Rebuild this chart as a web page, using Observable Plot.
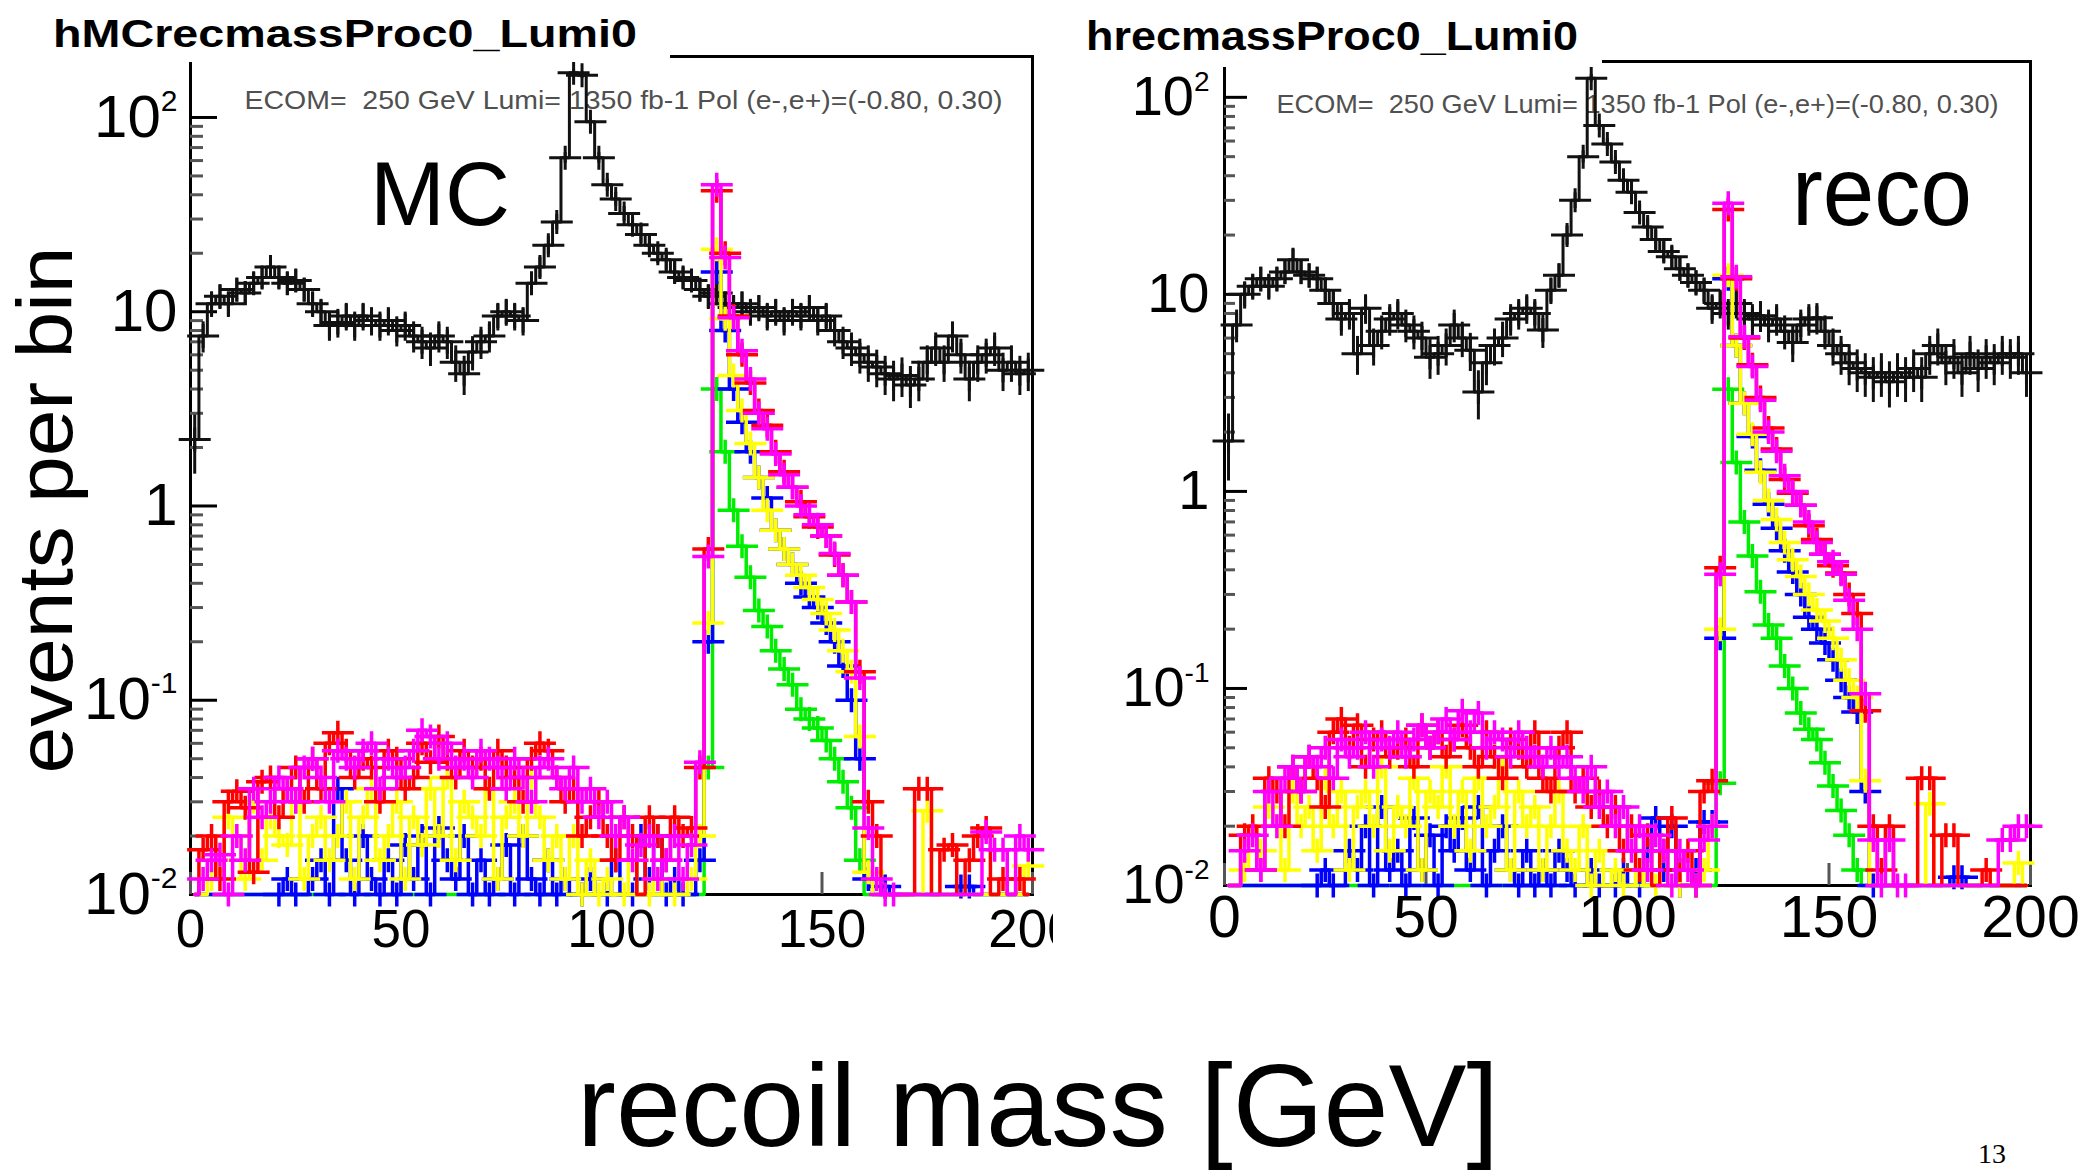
<!DOCTYPE html>
<html><head><meta charset="utf-8">
<script src="https://cdn.jsdelivr.net/npm/d3@7"></script>
<script src="https://cdn.jsdelivr.net/npm/@observablehq/plot@0.6"></script>
<style>
html,body{margin:0;padding:0;background:#fff;}
#page{position:relative;width:2089px;height:1170px;overflow:hidden;background:#fff;font-family:"Liberation Sans",Arial,sans-serif;}
#left,#right{position:absolute;top:0;}
#left{left:0;}
#right{left:1053px;}
#overlay{position:absolute;left:0;top:0;pointer-events:none;}
svg text{white-space:pre;}
</style></head>
<body><div id="page"><div id="left"></div><div id="right"></div><svg id="overlay" width="2089" height="1170"></svg></div>
<script>
// ---------------- data ----------------
const N_BINS = 100, BIN_WIDTH = 2;              // 0..200 GeV, 2 GeV bins
const binCenters = Array.from({length: N_BINS}, (_, i) => BIN_WIDTH * i + BIN_WIDTH / 2);
const X_TICKS = [0, 50, 100, 150, 200];
const Y_TICK_VALUES = [0.01, 0.1, 1, 10, 100];
const Y_TICK_LABELS = ["10^-2", "10^-1", "1", "10", "10^2"];
const ECOM_TEXT = "ECOM=  250 GeV Lumi= 1350 fb-1 Pol (e-,e+)=(-0.80, 0.30)";
const TITLE_MC = "hMCrecmassProc0_Lumi0";
const TITLE_RECO = "hrecmassProc0_Lumi0";

// ---- MC (left) ----
const mcBlack = [
  2.2, 7.5, 11, 12, 11, 13, 12.5, 14, 15, 17,
  15, 14, 14.5, 13, 11, 10, 8.5, 8.8, 9.5, 8.5,
  9.5, 9, 8.5, 9, 8, 8.5, 7.5, 7, 6.5, 7.5,
  7, 5.5, 4.8, 6.2, 7, 7.5, 9.5, 10, 9.5, 9,
  14, 17, 22, 29, 62, 170, 165, 95, 62, 45,
  38, 32, 28, 25, 22, 20, 18.5, 16, 15, 14.5,
  13, 12, 12.5, 11, 10.5, 11, 10, 10.5, 9.5, 10,
  9, 10, 9.5, 10.5, 9, 9.5, 8, 7, 6.5, 6,
  5.5, 5.2, 4.8, 4.5, 4.7, 4.2, 4.5, 5.5, 6.5, 5.5,
  7.5, 6, 4.5, 5.5, 6, 6.5, 5, 5.5, 4.8, 5];
const mcRed = [
  0, 0.017, 0.02, 0.012, 0.03, 0.034, 0.028, 0.013, 0.038, 0.04,
  0.025, 0.035, 0.045, 0.03, 0.05, 0.035, 0.06, 0.068, 0.055, 0.04,
  0.05, 0.045, 0.03, 0.055, 0.05, 0.035, 0.04, 0.06, 0.048, 0.065,
  0.05, 0.04, 0.055, 0.045, 0.05, 0.035, 0.055, 0.045, 0.04, 0.03,
  0.05, 0.06, 0.055, 0.04, 0.03, 0.035, 0.02, 0.025, 0.03, 0.02,
  0.015, 0.025, 0.02, 0, 0.025, 0.02, 0.015, 0.025, 0.02, 0.022,
  0.045, 0.6, 42, 20, 9.5, 6, 4.3, 3.1, 2.6, 1.9,
  1.5, 1.25, 1.05, 0.88, 0.78, 0.7, 0.56, 0.44, 0.32, 0.14,
  0.03, 0.02, 0, 0, 0, 0, 0.035, 0.035, 0, 0.017,
  0.018, 0, 0.015, 0.02, 0.022, 0, 0.012, 0, 0.012, 0];
const mcYellow = [
  0, 0, 0.012, 0.015, 0.025, 0.02, 0.012, 0.03, 0.015, 0.025,
  0.02, 0.018, 0.03, 0.012, 0.02, 0.025, 0.015, 0.02, 0.03, 0.012,
  0.025, 0.035, 0.015, 0.02, 0.03, 0.012, 0.025, 0.018, 0.035, 0.02,
  0.04, 0.015, 0.03, 0.025, 0.02, 0.035, 0.012, 0.025, 0.03, 0.02,
  0.04, 0.025, 0.015, 0.02, 0.012, 0.02, 0.01, 0.015, 0.01, 0.012,
  0, 0.01, 0.015, 0, 0.01, 0.012, 0, 0.01, 0, 0.012,
  0.02, 0.25, 21, 9.2, 4.7, 3.1, 2.1, 1.4, 0.95, 0.75,
  0.6, 0.5, 0.44, 0.38, 0.33, 0.28, 0.23, 0.18, 0.14, 0.065,
  0.013, 0, 0, 0, 0, 0, 0, 0.027, 0, 0,
  0, 0, 0, 0, 0, 0, 0, 0, 0, 0.014];
const mcBlue = [
  0, 0, 0, 0, 0, 0, 0, 0, 0, 0,
  0.01, 0.012, 0.01, 0, 0.012, 0.015, 0.01, 0.035, 0.015, 0.01,
  0.02, 0.012, 0.01, 0.015, 0.01, 0.018, 0.012, 0.02, 0.01, 0.022,
  0.015, 0.012, 0.02, 0.01, 0.015, 0.01, 0.012, 0.018, 0.01, 0.02,
  0.012, 0.01, 0.015, 0.01, 0.012, 0, 0.01, 0.012, 0, 0.01,
  0.015, 0, 0.01, 0.02, 0.012, 0.02, 0.01, 0.012, 0.01, 0,
  0.015, 0.2, 16, 8, 4, 2.7, 1.9, 1.4, 1.1, 0.75,
  0.6, 0.5, 0.4, 0.34, 0.3, 0.25, 0.2, 0.15, 0.1, 0.05,
  0.012, 0, 0.011, 0, 0, 0, 0, 0, 0, 0,
  0, 0.011, 0.011, 0, 0, 0, 0, 0, 0, 0];
const mcGreen = [
  0, 0, 0, 0, 0, 0, 0, 0, 0, 0,
  0, 0, 0, 0, 0, 0, 0, 0, 0, 0,
  0, 0, 0, 0, 0, 0, 0, 0, 0, 0,
  0, 0, 0, 0, 0, 0, 0, 0, 0, 0,
  0, 0, 0, 0, 0, 0, 0, 0, 0, 0,
  0, 0, 0, 0, 0, 0, 0, 0, 0, 0,
  0, 0.045, 4.0, 1.9, 0.95, 0.62, 0.43, 0.29, 0.24, 0.18,
  0.145, 0.12, 0.09, 0.08, 0.072, 0.062, 0.05, 0.038, 0.028, 0.015,
  0, 0, 0, 0, 0, 0, 0, 0, 0, 0,
  0, 0, 0, 0, 0, 0, 0, 0, 0, 0];
const mcMagenta = [
  0, 0.012, 0.015, 0.016, 0.01, 0.02, 0.015, 0.035, 0.025, 0.03,
  0.04, 0.035, 0.03, 0.045, 0.05, 0.04, 0.03, 0.055, 0.05, 0.045,
  0.055, 0.06, 0.035, 0.05, 0.04, 0.045, 0.055, 0.07, 0.065, 0.05,
  0.06, 0.045, 0.05, 0.04, 0.055, 0.05, 0.045, 0.035, 0.05, 0.04,
  0.03, 0.045, 0.05, 0.04, 0.035, 0.045, 0.03, 0.035, 0.025, 0.03,
  0.02, 0.025, 0.015, 0.018, 0.02, 0.012, 0.015, 0.02, 0.012, 0.018,
  0.048, 0.55, 45, 19, 9.3, 6.3, 4.5, 3.0, 2.5, 1.85,
  1.45, 1.25, 1.0, 0.9, 0.8, 0.7, 0.57, 0.44, 0.32, 0.13,
  0.022, 0.012, 0.01, 0.01, 0, 0, 0, 0, 0, 0,
  0, 0, 0, 0, 0.021, 0.017, 0.017, 0, 0.02, 0.017];

// ---- reco (right) ----
const recoBlack = [
  1.8, 7, 10, 11, 12, 11, 12, 13, 15, 13,
  12.5, 12, 10.5, 9, 7.5, 8, 5, 8.5, 5.5, 6.5,
  7.5, 8, 7, 6.5, 6, 4.8, 5, 5.5, 7, 6,
  5.2, 3.2, 4.5, 5.5, 6, 7.5, 8, 8.5, 8, 6.6,
  10.5, 12.5, 20, 30, 50, 125, 72, 58, 47, 38,
  33, 26, 22, 19, 16.5, 15.5, 13.5, 12.5, 11.5, 10.5,
  8.5, 9, 8, 9, 8, 7.5, 7.8, 7, 7.5, 6.5,
  5.7, 7, 7.5, 7.6, 6.5, 5.5, 5, 4.5, 4.2, 4,
  3.8, 4, 3.6, 4, 3.8, 4.2, 3.8, 5, 5.5, 4.5,
  4.8, 4, 5, 4.2, 4.8, 4.5, 5, 4.8, 5, 4];
const recoRed = [
  0, 0, 0.018, 0.02, 0.012, 0.035, 0.03, 0.02, 0.04, 0.03,
  0.045, 0.035, 0.025, 0.06, 0.07, 0.05, 0.065, 0.04, 0.055, 0.06,
  0.045, 0.05, 0.055, 0.04, 0.065, 0.05, 0.06, 0.045, 0.055, 0.065,
  0.05, 0.04, 0.06, 0.045, 0.035, 0.055, 0.05, 0.04, 0.06, 0.035,
  0.03, 0.05, 0.06, 0.03, 0.035, 0.025, 0.03, 0.02, 0.025, 0.015,
  0.02, 0.012, 0.018, 0, 0.015, 0.022, 0.012, 0.015, 0.01, 0.03,
  0.034, 0.41, 27, 12, 6, 4.4, 3.0, 2.1, 1.64, 1.15,
  0.98, 0.85, 0.67, 0.57, 0.48, 0.42, 0.385, 0.3, 0.24, 0.077,
  0.02, 0.012, 0.02, 0, 0, 0, 0.035, 0.035, 0, 0.018,
  0.018, 0, 0, 0, 0.012, 0, 0, 0, 0, 0];
const recoYellow = [
  0, 0, 0.012, 0.02, 0.015, 0.025, 0.02, 0.012, 0.03, 0.02,
  0.025, 0.015, 0.035, 0.02, 0.03, 0.012, 0.025, 0.03, 0.02, 0.04,
  0.015, 0.025, 0.02, 0.035, 0.012, 0.03, 0.025, 0.04, 0.02, 0.03,
  0.015, 0.035, 0.02, 0.025, 0.04, 0.012, 0.03, 0.02, 0.025, 0.012,
  0.02, 0.03, 0.015, 0.012, 0.02, 0.01, 0.015, 0, 0.012, 0.01,
  0, 0.012, 0, 0.01, 0.015, 0, 0.01, 0, 0.01, 0.012,
  0.02, 0.2, 12.5, 5.5, 2.8, 1.95, 1.25, 0.9, 0.72, 0.55,
  0.45, 0.37, 0.3, 0.25, 0.22, 0.18, 0.14, 0.11, 0.09, 0.034,
  0, 0, 0, 0, 0, 0, 0, 0.026, 0, 0,
  0, 0, 0, 0, 0, 0, 0, 0, 0.013, 0];
const recoBlue = [
  0, 0, 0, 0, 0, 0, 0, 0, 0, 0,
  0, 0.01, 0.012, 0.01, 0, 0.015, 0.012, 0.02, 0.01, 0.025,
  0.012, 0.015, 0.01, 0.022, 0.012, 0.018, 0.01, 0.02, 0.015, 0.022,
  0.012, 0.025, 0.01, 0.015, 0.02, 0.012, 0.01, 0.015, 0.01, 0.012,
  0.01, 0.015, 0.012, 0.01, 0, 0.012, 0.01, 0, 0.01, 0.012,
  0, 0.01, 0.015, 0.022, 0.012, 0.02, 0.01, 0, 0.012, 0.021,
  0.021, 0.18, 12, 5.5, 2.8, 1.9, 1.28, 0.86, 0.65, 0.5,
  0.39, 0.3, 0.23, 0.2, 0.17, 0.14, 0.11, 0.09, 0.076, 0.03,
  0.01, 0, 0, 0, 0, 0, 0, 0, 0, 0,
  0.011, 0.011, 0, 0, 0, 0, 0, 0, 0, 0];
const recoGreen = [
  0, 0, 0, 0, 0, 0, 0, 0, 0, 0,
  0, 0, 0, 0, 0, 0, 0, 0, 0, 0,
  0, 0, 0, 0, 0, 0, 0, 0, 0, 0,
  0, 0, 0, 0, 0, 0, 0, 0, 0, 0,
  0, 0, 0, 0, 0, 0, 0, 0, 0, 0,
  0, 0, 0, 0, 0, 0, 0, 0, 0, 0,
  0, 0.033, 3.3, 1.4, 0.7, 0.47, 0.31, 0.21, 0.18, 0.13,
  0.1, 0.075, 0.062, 0.055, 0.042, 0.032, 0.024, 0.018, 0.012, 0,
  0, 0, 0, 0, 0, 0, 0, 0, 0, 0,
  0, 0, 0, 0, 0, 0, 0, 0, 0, 0];
const recoMagenta = [
  0, 0, 0.015, 0.018, 0.012, 0.03, 0.02, 0.035, 0.04, 0.03,
  0.045, 0.04, 0.05, 0.035, 0.055, 0.045, 0.05, 0.06, 0.04, 0.055,
  0.05, 0.06, 0.045, 0.055, 0.065, 0.05, 0.06, 0.07, 0.055, 0.077,
  0.06, 0.075, 0.05, 0.06, 0.055, 0.045, 0.06, 0.05, 0.045, 0.04,
  0.05, 0.04, 0.045, 0.035, 0.03, 0.04, 0.025, 0.03, 0.02, 0.025,
  0.015, 0.02, 0.012, 0.018, 0.015, 0.01, 0.015, 0.012, 0.01, 0.017,
  0.02, 0.38, 29, 12.3, 6.1, 4.3, 2.9, 2.0, 1.6, 1.2,
  1.0, 0.85, 0.7, 0.55, 0.48, 0.44, 0.38, 0.28, 0.2, 0.094,
  0.017, 0.01, 0.017, 0.01, 0.01, 0, 0, 0, 0, 0,
  0, 0, 0, 0, 0, 0, 0.017, 0.017, 0.02, 0.02];

// ---------------- drawing ----------------
const Y_FLOOR = 0.01;            // log-axis floor: empty bins are drawn on the axis
const ERR_W_BLACK = 0.25;        // per-event weight used for the Poisson error bars
const COLORS = {black: "#111", green: "#00ee00", blue: "#0000ff", yellow: "#ffff00", red: "#ff0000", magenta: "#ff00ff"};

const cross = {draw(ctx) { ctx.moveTo(-16, 0); ctx.lineTo(16, 0); ctx.moveTo(0, -12); ctx.lineTo(0, 12); }};

function rowsOf(values) { return values.map((v, i) => ({c: binCenters[i], v})); }

function minorTicks(yMax) {
  const t = [];
  for (const d of [0.01, 0.1, 1, 10, 100]) for (let k = 2; k <= 9; k++) { const v = d * k; if (v <= yMax) t.push(v); }
  return t;
}

function makePanel(o) {
  const plotW = o.width - o.mL - o.mR, plotH = o.height - o.mT - o.mB;
  const marks = [
    Plot.text([ECOM_TEXT], {frameAnchor: "top-left", dx: o.ecomDx, dy: o.ecomDy, textAnchor: "start", lineAnchor: "middle", fontSize: 25, fill: "#505050", text: d => d}),
    Plot.frame({stroke: "#000", strokeWidth: 3}),
    Plot.tickY(minorTicks(o.yMax), {y: d => d, insetRight: plotW - o.minorLen, stroke: "#555", strokeWidth: 3}),
    Plot.tickY(Y_TICK_VALUES, {y: d => d, insetRight: plotW - o.majorLen, stroke: "#000", strokeWidth: 3}),
    Plot.tickX(X_TICKS, {x: d => d, insetTop: plotH - 22, stroke: "#555", strokeWidth: 3})
  ];
  const black = rowsOf(o.black);
  marks.push(
    Plot.line(black, {x: "c", y: d => Math.max(d.v, Y_FLOOR), curve: "step", stroke: COLORS.black, strokeWidth: 3}),
    Plot.ruleX(black.filter(d => d.v > 0), {x: "c", y1: d => Math.max(d.v - Math.sqrt(d.v * ERR_W_BLACK), Y_FLOOR), y2: d => d.v + Math.sqrt(d.v * ERR_W_BLACK), stroke: COLORS.black, strokeWidth: 3}),
    Plot.dot(black.filter(d => d.v > 0), {x: "c", y: "v", symbol: cross, r: 5, stroke: COLORS.black, fill: "none", strokeWidth: 3})
  );
  for (const [name, values] of o.colored) {
    const rows = rowsOf(values);
    marks.push(
      Plot.line(rows, {x: "c", y: d => Math.max(d.v, Y_FLOOR), curve: "step", stroke: COLORS[name], strokeWidth: 3.5}),
      Plot.dot(rows.filter(d => d.v > 0), {x: "c", y: "v", symbol: cross, r: 5, stroke: COLORS[name], fill: "none", strokeWidth: 3.5})
    );
  }
  marks.push(
    Plot.text(Y_TICK_VALUES, {y: d => d, frameAnchor: "left", dx: o.yLabelDx, textAnchor: "end", lineAnchor: "middle", fontSize: o.yLabelSize, fill: "#000", text: (d, i) => Y_TICK_LABELS[i]}),
    Plot.text(X_TICKS, {x: d => d, frameAnchor: "bottom", lineAnchor: "top", dy: o.xLabelDy, fontSize: o.xLabelSize, fill: "#000", text: d => String(d)})
  );
  const svg = Plot.plot({
    width: o.width, height: o.height,
    marginLeft: o.mL, marginRight: o.mR, marginTop: o.mT, marginBottom: o.mB,
    x: {domain: [0, 200], axis: null},
    y: {type: "log", domain: [Y_FLOOR, o.yMax], axis: null},
    style: {background: "#fff", fontFamily: "'Liberation Sans', Arial, sans-serif", overflow: "hidden"},
    marks
  });
  // superscripts and stretched info line
  d3.select(svg).selectAll("text").each(function() {
    const s = this.textContent;
    if (s.startsWith("ECOM")) {
      this.setAttribute("textLength", o.ecomLen);
      this.setAttribute("lengthAdjust", "spacingAndGlyphs");
    } else if (s.includes("^")) {
      const [base, exp] = s.split("^");
      this.textContent = "";
      d3.select(this).append("tspan").text(base);
      d3.select(this).append("tspan").attr("dy", -o.supRaise).attr("font-size", o.supSize).text(exp);
    }
  });
  return svg;
}

document.getElementById("left").appendChild(makePanel({
  width: 1053, height: 960, mL: 190, mR: 21, mT: 56, mB: 66, yMax: 206,
  black: mcBlack,
  colored: [["green", mcGreen], ["blue", mcBlue], ["yellow", mcYellow], ["red", mcRed], ["magenta", mcMagenta]],
  ecomDx: 54, ecomDy: 44, ecomLen: 758,
  majorLen: 27, minorLen: 13,
  yLabelDx: -13, yLabelSize: 60, supRaise: 26, supSize: 30,
  xLabelDy: 15, xLabelSize: 53
}));
document.getElementById("right").appendChild(makePanel({
  width: 1036, height: 960, mL: 171, mR: 59, mT: 61, mB: 75, yMax: 152,
  black: recoBlack,
  colored: [["green", recoGreen], ["blue", recoBlue], ["yellow", recoYellow], ["red", recoRed], ["magenta", recoMagenta]],
  ecomDx: 52, ecomDy: 43, ecomLen: 722,
  majorLen: 23, minorLen: 11,
  yLabelDx: -15, yLabelSize: 56, supRaise: 24, supSize: 28,
  xLabelDy: 10, xLabelSize: 59
}));

// ---------------- slide annotations ----------------
const ov = d3.select("#overlay");
const SANS = "'Liberation Sans', Arial, sans-serif";
ov.append("rect").attr("x", 30).attr("y", 0).attr("width", 640).attr("height", 62).attr("fill", "#fff");
ov.append("rect").attr("x", 1053).attr("y", 0).attr("width", 549).attr("height", 67).attr("fill", "#fff");
ov.append("text").attr("x", 53).attr("y", 47).attr("font-size", 38).attr("font-weight", "bold")
  .attr("textLength", 584).attr("lengthAdjust", "spacingAndGlyphs").attr("font-family", SANS).text(TITLE_MC);
ov.append("text").attr("x", 1086).attr("y", 50).attr("font-size", 41).attr("font-weight", "bold")
  .attr("textLength", 492).attr("lengthAdjust", "spacingAndGlyphs").attr("font-family", SANS).text(TITLE_RECO);
ov.append("text").attr("x", 370).attr("y", 225).attr("font-size", 91).attr("textLength", 140).attr("lengthAdjust", "spacingAndGlyphs")
  .attr("font-family", SANS).text("MC");
ov.append("text").attr("x", 1792).attr("y", 225).attr("font-size", 98).attr("textLength", 180).attr("lengthAdjust", "spacingAndGlyphs")
  .attr("font-family", SANS).text("reco");
ov.append("text").attr("transform", "translate(72,510) rotate(-90)").attr("text-anchor", "middle").attr("font-size", 77)
  .attr("textLength", 527).attr("lengthAdjust", "spacingAndGlyphs").attr("font-family", SANS).text("events per bin");
ov.append("text").attr("x", 1038).attr("y", 1146).attr("text-anchor", "middle").attr("font-size", 116)
  .attr("textLength", 922).attr("lengthAdjust", "spacingAndGlyphs").attr("font-family", SANS).text("recoil mass [GeV]");
ov.append("text").attr("x", 1992).attr("y", 1163).attr("text-anchor", "middle").attr("font-size", 28)
  .attr("font-family", "'Liberation Serif', 'DejaVu Serif', serif").text("13");
</script>
</body></html>
